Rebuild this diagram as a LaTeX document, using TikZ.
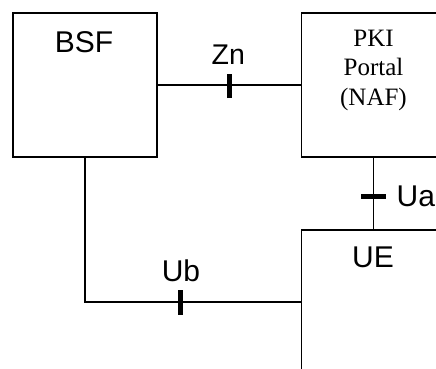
\documentclass[tikz,border=0pt]{standalone}
\usepackage{fontspec}
\setmainfont{Liberation Sans}
\newfontfamily\tnr{Liberation Serif}
\begin{document}
\begin{tikzpicture}[x=1pt,y=-1pt,
  ent/.style={draw=black,line width=1.5pt,minimum width=144pt,minimum height=144pt,inner sep=0pt,outer sep=0pt},
  lbl/.style={inner sep=0pt,font=\fontsize{30}{30}\selectfont},
  conn/.style={line width=1.5pt},
  tick/.style={line width=5pt}]
\useasboundingbox (0,0) rectangle (436,368);
\clip (0,0) rectangle (436,368);
\node[ent] (bsf) at (85,85) {};
\node[ent] (pki) at (373.5,85) {};
\node[ent] (ue) at (373.5,302) {};
\node[lbl] (bsft) at (84,42.5) {BSF};
\node[inner sep=0pt,align=center,font=\tnr\fontsize{25}{29.5}\selectfont] (pkit) at (373.5,70) {PKI\\Portal\\(NAF)};
\node[lbl] (uet) at (373,257.5) {UE};
% connectors
\coordinate (corner) at (85,302);
\draw[conn] (bsf.east) -- (pki.west);
\draw[conn] (pki.south) -- (ue.north);
\draw[conn] (bsf.south) -- (corner) -- (ue.west);
% reference point ticks
\coordinate (znt) at (229,86);
\coordinate (uat) at (373.5,196);
\coordinate (ubt) at (180,302);
\draw[tick] ([yshift=-12pt]znt) -- ([yshift=12pt]znt);
\draw[tick] ([xshift=-12.5pt]uat) -- ([xshift=12.5pt]uat);
\draw[tick] ([yshift=-12.5pt]ubt) -- ([yshift=12.5pt]ubt);
\node[lbl,font=\fontsize{28.5}{28.5}\selectfont] (znl) at (228.3,55) {Zn};
\node[lbl,anchor=west] (ual) at (396.5,196) {Ua};
\node[lbl] (ubl) at (181,271) {Ub};
\end{tikzpicture}
\end{document}
